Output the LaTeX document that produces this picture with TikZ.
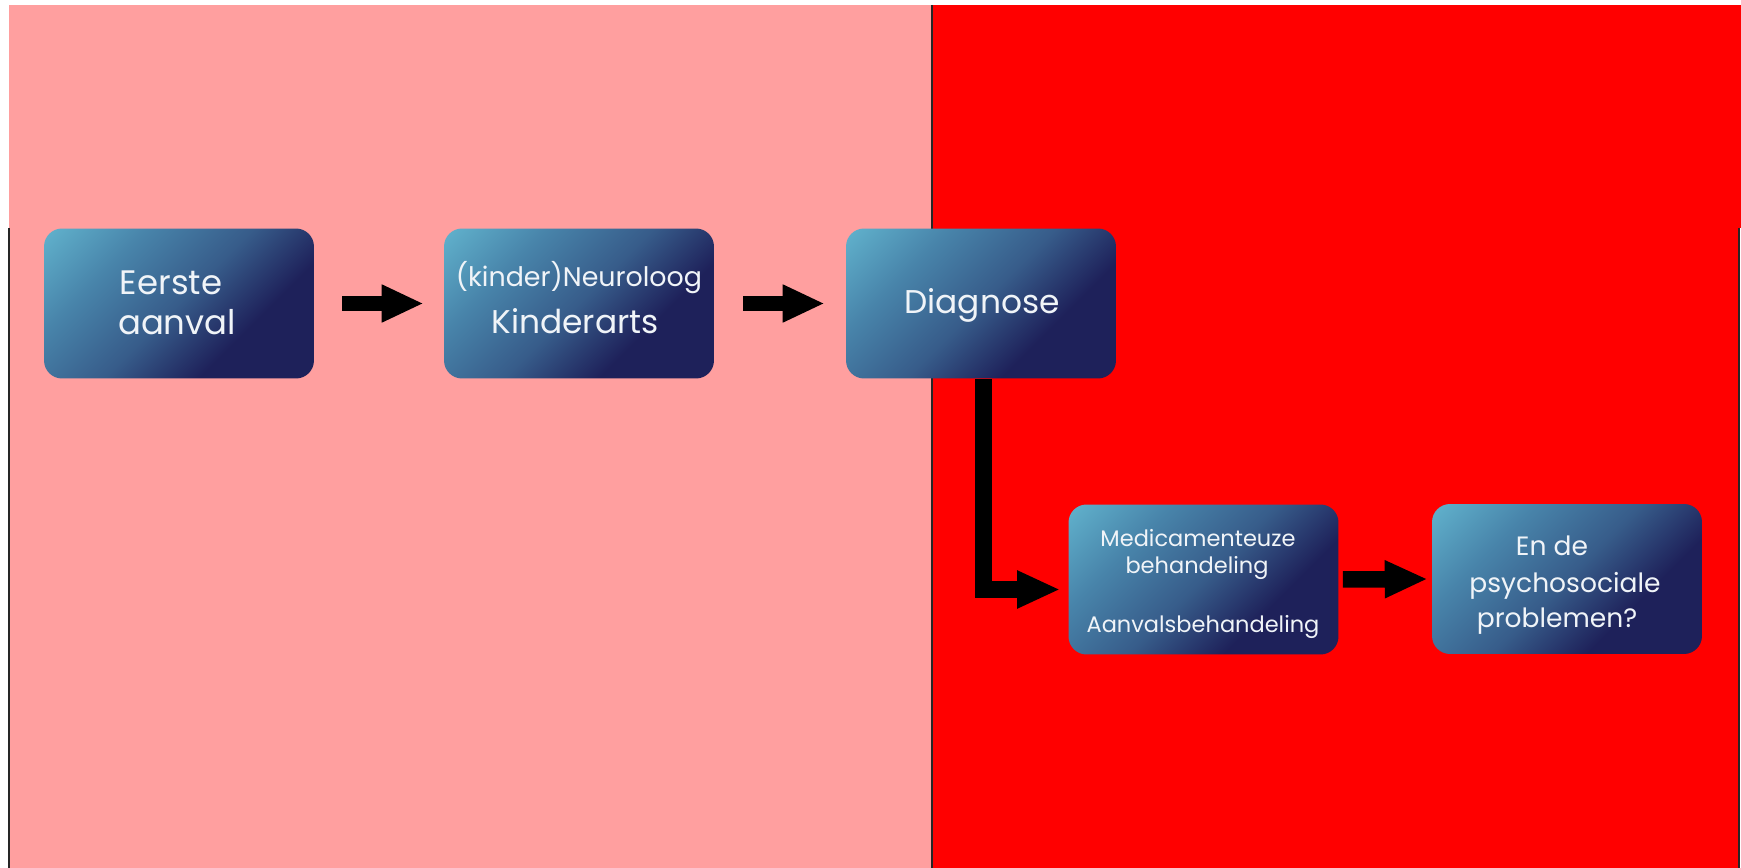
\documentclass[tikz,border=0pt]{standalone}
\usepackage{fontspec}
\setmainfont{Poppins}
\usetikzlibrary{arrows.meta}
\definecolor{bgpink}{RGB}{255,159,159}
\definecolor{bgred}{RGB}{255,0,0}
\definecolor{boxlt}{RGB}{98,180,206}
\definecolor{boxml}{RGB}{72,132,170}
\definecolor{boxmd}{RGB}{55,92,138}
\definecolor{boxdk}{RGB}{30,33,90}
\definecolor{txtc}{RGB}{240,244,248}
\pgfdeclareverticalshading{boxshade}{100bp}{color(0bp)=(boxdk); color(34bp)=(boxdk); color(50bp)=(boxmd); color(68bp)=(boxml); color(86bp)=(boxlt); color(100bp)=(boxlt)}
\tikzset{
  flowbox/.style={rounded corners=0.36cm, minimum width=5.4cm, minimum height=3cm, inner sep=0pt, shade, shading=boxshade, shading angle=45},
  txt/.style={text=txtc, inner sep=0pt, anchor=base},
  blockarrow/.style={line width=0.31cm, -{Triangle[length=0.84cm,width=0.7cm]}},
  edgeline/.style={line width=0.03cm, draw=black!85}
}
\begin{document}
\begin{tikzpicture}[x=0.02cm,y=-0.02cm]
\useasboundingbox (0,0) rectangle (1741,868);
% backgrounds
\fill[white] (0,0) rectangle (1741,868);
\fill[bgpink] (9,5) rectangle (932,868);
\fill[bgred] (932,5) rectangle (1741,228);
\fill[bgred] (932,228) rectangle (1739,868);
\draw[edgeline] (9,228) -- (9,868);
\draw[edgeline] (1739,228) -- (1739,868);
\draw[edgeline] (932,5) -- (932,868);
% boxes
\node[flowbox] (b1) at (179,303.5) {};
\node[flowbox] (b2) at (579,303.5) {};
\node[flowbox] (b3) at (981,303.5) {};
\node[flowbox] (b4) at (1203.5,579.5) {};
\node[flowbox] (b5) at (1567,579) {};
% texts
\node[txt, font=\fontsize{19.3}{23}\selectfont] (t1a) at (171,295) {Eerste};
\node[txt, font=\fontsize{19.3}{23}\selectfont] (t1b) at (177,335) {aanval};
\node[txt, font=\fontsize{15.3}{18}\selectfont] (t2a) at (579,287) {(kinder)Neuroloog};
\node[txt, font=\fontsize{18.7}{22}\selectfont] (t2b) at (575,333) {Kinderarts};
\node[txt, font=\fontsize{18.7}{22}\selectfont] (t3a) at (982,314) {Diagnose};
\node[txt, font=\fontsize{12.8}{15}\selectfont] (t4a) at (1198,546) {Medicamenteuze};
\node[txt, font=\fontsize{12.8}{15}\selectfont] (t4b) at (1197,573) {behandeling};
\node[txt, font=\fontsize{12.8}{15}\selectfont] (t4c) at (1203,632) {Aanvalsbehandeling};
\node[txt, font=\fontsize{15.1}{18}\selectfont] (t5a) at (1552,555) {En de};
\node[txt, font=\fontsize{15.1}{18}\selectfont] (t5b) at (1565,592) {psychosociale};
\node[txt, font=\fontsize{15.1}{18}\selectfont] (t5c) at (1557,627) {problemen?};
% arrows
\draw[blockarrow, shorten <=0.56cm, shorten >=0.4cm] (b1.east) -- (b2.west);
\draw[blockarrow, shorten <=0.58cm, shorten >=0.42cm] (b2.east) -- (b3.west);
\draw[line width=0.34cm, -{Triangle[length=0.86cm,width=0.7cm]}, shorten >=0.16cm] ([xshift=0.05cm]b3.south) |- ([yshift=-0.2cm]b4.west);
\draw[line width=0.33cm, -{Triangle[length=0.86cm,width=0.7cm]}, shorten <=0.08cm, shorten >=0.08cm] (b4.east) -- (b5.west);
\end{tikzpicture}
\end{document}
